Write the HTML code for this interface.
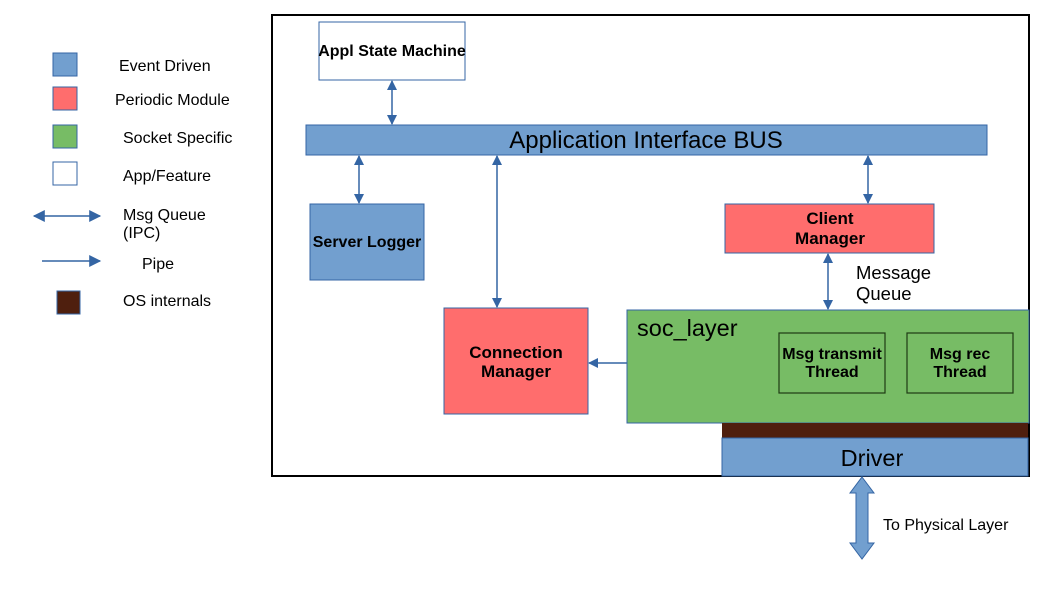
<!DOCTYPE html>
<html><head><meta charset="utf-8"><style>body{margin:0;background:#fff}svg{display:block}text{font-family:"Liberation Sans",sans-serif}</style></head><body>
<svg width="1058" height="595" viewBox="0 0 1058 595" xmlns="http://www.w3.org/2000/svg">
<defs>
<marker id="ah" viewBox="0 0 10 10" refX="9" refY="5" markerWidth="10" markerHeight="10" markerUnits="userSpaceOnUse" orient="auto-start-reverse"><path d="M0,0 L10,5 L0,10 z" fill="#3465a4"/></marker>
<marker id="ahl" viewBox="0 0 10 10" refX="9" refY="5" markerWidth="16" markerHeight="12" markerUnits="userSpaceOnUse" orient="auto-start-reverse"><path d="M0,0 L10,5 L0,10 z" fill="#3465a4"/></marker>
</defs>
<rect x="53" y="53" width="24" height="23" fill="#729fcf" stroke="#3465a4"/>
<rect x="53" y="87" width="24" height="23" fill="#ff6d6d" stroke="#3465a4"/>
<rect x="53" y="125" width="24" height="23" fill="#77bc65" stroke="#3465a4"/>
<rect x="53" y="162" width="24" height="23" fill="#fff" stroke="#3465a4"/>
<rect x="57" y="291" width="23" height="23" fill="#4f1f0e" stroke="#3465a4"/>
<g font-size="16" fill="#000">
<text x="119" y="71">Event Driven</text>
<text x="115" y="105">Periodic Module</text>
<text x="123" y="143">Socket Specific</text>
<text x="123" y="181">App/Feature</text>
<text x="123" y="220">Msg Queue</text>
<text x="123" y="238">(IPC)</text>
<text x="142" y="269">Pipe</text>
<text x="123" y="306">OS internals</text>
</g>
<line x1="34" y1="216" x2="100" y2="216" stroke="#3465a4" stroke-width="1.5" marker-start="url(#ahl)" marker-end="url(#ahl)"/>
<line x1="42" y1="261" x2="100" y2="261" stroke="#3465a4" stroke-width="1.5" marker-end="url(#ahl)"/>
<rect x="272" y="15" width="757" height="461" fill="#fff" stroke="#000" stroke-width="2"/>
<rect x="319" y="22" width="146" height="58" fill="#fff" stroke="#3465a4"/>
<text x="392" y="56" font-size="16" font-weight="bold" text-anchor="middle">Appl State Machine</text>
<rect x="306" y="125" width="681" height="30" fill="#729fcf" stroke="#3465a4"/>
<text x="646" y="148" font-size="24" text-anchor="middle">Application Interface BUS</text>
<rect x="310" y="204" width="114" height="76" fill="#729fcf" stroke="#3465a4"/>
<text x="367" y="247" font-size="16" font-weight="bold" text-anchor="middle">Server Logger</text>
<rect x="444" y="308" width="144" height="106" fill="#ff6d6d" stroke="#3465a4"/>
<text x="516" y="358" font-size="17" font-weight="bold" text-anchor="middle">Connection</text>
<text x="516" y="377" font-size="17" font-weight="bold" text-anchor="middle">Manager</text>
<rect x="725" y="204" width="209" height="49" fill="#ff6d6d" stroke="#3465a4"/>
<text x="830" y="224" font-size="17" font-weight="bold" text-anchor="middle">Client</text>
<text x="830" y="244" font-size="17" font-weight="bold" text-anchor="middle">Manager</text>
<text x="856" y="279" font-size="18.5">Message</text>
<text x="856" y="300" font-size="18.5">Queue</text>
<rect x="627" y="310" width="402" height="113" fill="#77bc65" stroke="#3465a4"/>
<text x="637" y="336" font-size="23.5">soc_layer</text>
<rect x="779" y="333" width="106" height="60" fill="none" stroke="#1e3a14" stroke-width="1.2"/>
<text x="832" y="359" font-size="16" font-weight="bold" text-anchor="middle">Msg transmit</text>
<text x="832" y="377" font-size="16" font-weight="bold" text-anchor="middle">Thread</text>
<rect x="907" y="333" width="106" height="60" fill="none" stroke="#1e3a14" stroke-width="1.2"/>
<text x="960" y="359" font-size="16" font-weight="bold" text-anchor="middle">Msg rec</text>
<text x="960" y="377" font-size="16" font-weight="bold" text-anchor="middle">Thread</text>
<rect x="722" y="423" width="306" height="15" fill="#4f1f0e"/>
<rect x="722" y="438" width="306" height="38" fill="#729fcf" stroke="#3465a4"/>
<text x="872" y="466" font-size="23.5" text-anchor="middle">Driver</text>
<g stroke="#3465a4" stroke-width="1.5">
<line x1="392" y1="81" x2="392" y2="124" marker-start="url(#ah)" marker-end="url(#ah)"/>
<line x1="359" y1="156" x2="359" y2="203" marker-start="url(#ah)" marker-end="url(#ah)"/>
<line x1="497" y1="156" x2="497" y2="307" marker-start="url(#ah)" marker-end="url(#ah)"/>
<line x1="868" y1="156" x2="868" y2="203" marker-start="url(#ah)" marker-end="url(#ah)"/>
<line x1="828" y1="254" x2="828" y2="309" marker-start="url(#ah)" marker-end="url(#ah)"/>
<line x1="627" y1="363" x2="589" y2="363" marker-end="url(#ah)"/>
</g>
<path d="M862,477 L874,493 L868,493 L868,543 L874,543 L862,559 L850,543 L856,543 L856,493 L850,493 Z" fill="#729fcf" stroke="#3465a4"/>
<text x="883" y="530" font-size="16">To Physical Layer</text>
</svg>
</body></html>
